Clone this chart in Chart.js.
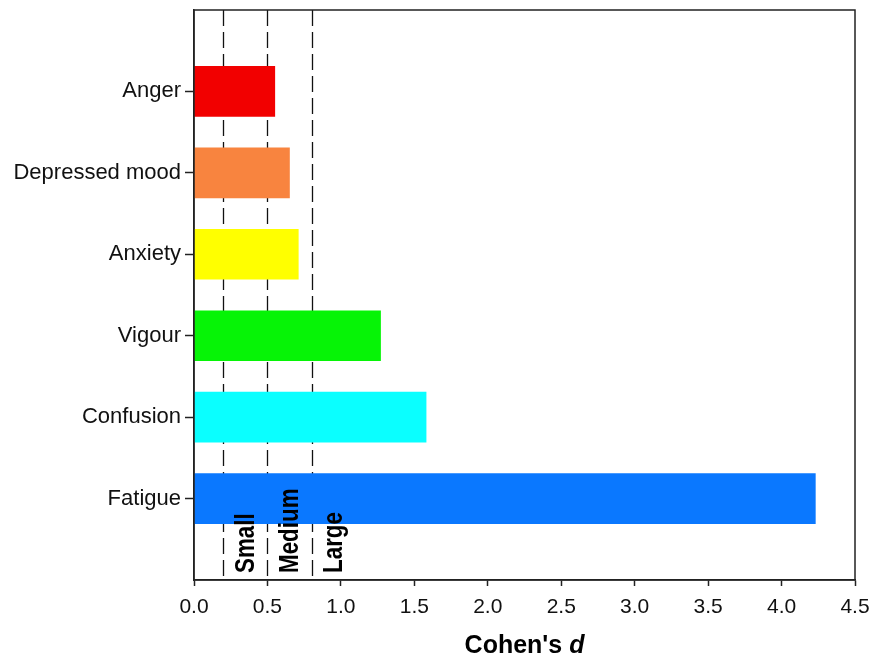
<!DOCTYPE html>
<html>
<head>
<meta charset="utf-8">
<script src="https://cdn.jsdelivr.net/npm/chart.js@4/dist/chart.umd.min.js"></script>
<style>
  html, body { margin: 0; padding: 0; background: #fff; }
  #wrap { width: 874px; height: 656px; position: relative; }
</style>
</head>
<body>
<div id="wrap"><canvas id="effectChart"></canvas></div>
<script>
// Daten
const categories = ['Anger', 'Depressed mood', 'Anxiety', 'Vigour', 'Confusion', 'Fatigue'];
const effectSizes = [0.55, 0.65, 0.71, 1.27, 1.58, 4.23];
const barColors = ['#f20000', '#f8843f', '#ffff00', '#06f406', '#0affff', '#0a78ff'];
const thresholds = [0.2, 0.5, 0.8];
const thresholdNames = ['Small', 'Medium', 'Large'];
const xTicks = [0, 0.5, 1, 1.5, 2, 2.5, 3, 3.5, 4, 4.5];

// leere Plätze oben/unten, damit die Balken wie im Original sitzen
const yLabels = [''].concat(categories, ['']);
const yData = [null].concat(effectSizes, [null]);
const yColors = ['#fff'].concat(barColors, ['#fff']);

const axisColor = '#222';
const font = "'Liberation Sans', Arial, sans-serif";

// Schwellenlinien + Beschriftung
const thresholdPlugin = {
    id: 'thresholds',
    beforeDatasetsDraw(chart) {
        const { ctx, chartArea, scales } = chart;
        ctx.save();
        ctx.strokeStyle = '#111';
        ctx.lineWidth = 1.3;
        ctx.setLineDash([16, 6]);
        thresholds.forEach(t => {
            const x = Math.round(scales.x.getPixelForValue(t)) + 0.5;
            ctx.beginPath();
            ctx.moveTo(x, chartArea.top);
            ctx.lineTo(x, chartArea.bottom);
            ctx.stroke();
        });
        ctx.restore();
    },
    afterDatasetsDraw(chart) {
        const { ctx, chartArea, scales } = chart;
        ctx.save();
        ctx.fillStyle = '#000';
        ctx.font = "bold 28px " + font;
        ctx.textAlign = 'left';
        ctx.textBaseline = 'alphabetic';
        thresholds.forEach((t, i) => {
            const x = scales.x.getPixelForValue(t + 0.21);
            ctx.save();
            ctx.translate(x, chartArea.bottom - 7);
            ctx.rotate(-Math.PI / 2);
            ctx.scale(0.8, 1);
            ctx.fillText(thresholdNames[i], 0, 0);
            ctx.restore();
        });
        ctx.restore();
    },
    afterDraw(chart) {
        const { ctx, chartArea } = chart;
        ctx.save();
        // Rahmen
        ctx.strokeStyle = axisColor;
        ctx.lineWidth = 1.5;
        ctx.strokeRect(chartArea.left, chartArea.top, chartArea.right - chartArea.left, chartArea.bottom - chartArea.top);
        // Achsentitel "Cohen's d" mit kursivem d
        const cx = (chartArea.left + chartArea.right) / 2;
        const y = 653;
        ctx.fillStyle = '#000';
        ctx.textBaseline = 'alphabetic';
        ctx.font = "bold 25px " + font;
        const w1 = ctx.measureText("Cohen's ").width;
        ctx.font = "italic bold 25px " + font;
        const w2 = ctx.measureText('d').width;
        const x0 = cx - (w1 + w2) / 2;
        ctx.textAlign = 'left';
        ctx.font = "bold 25px " + font;
        ctx.fillText("Cohen's ", x0, y);
        ctx.font = "italic bold 25px " + font;
        ctx.fillText('d', x0 + w1, y);
        ctx.restore();
    }
};

function initChart() {
    const ctx = document.getElementById('effectChart');
    return new Chart(ctx, {
        type: 'bar',
        data: {
            labels: yLabels,
            datasets: [{
                data: yData,
                backgroundColor: yColors,
                borderWidth: 0,
                barThickness: 50
            }]
        },
        options: {
            indexAxis: 'y',
            responsive: true,
            maintainAspectRatio: false,
            animation: false,
            layout: { padding: { left: 0, right: 19, top: 10, bottom: 0 } },
            plugins: {
                legend: { display: false },
                tooltip: { enabled: false }
            },
            scales: {
                x: {
                    type: 'linear',
                    min: 0,
                    max: 4.5,
                    afterBuildTicks: scale => { scale.ticks = xTicks.map(v => ({ value: v })); },
                    afterFit: scale => {
                        scale.height = 76;
                        scale.paddingLeft = 0;
                        scale.paddingRight = 0;
                    },
                    ticks: {
                        callback: v => Number(v).toFixed(1),
                        color: '#111',
                        font: { family: font, size: 21 },
                        padding: 9,
                        maxRotation: 0,
                        autoSkip: false
                    },
                    grid: { drawOnChartArea: false, tickLength: 6, tickColor: axisColor, tickWidth: 1.5 },
                    border: { color: axisColor, width: 1.5 }
                },
                y: {
                    type: 'category',
                    offset: false,
                    afterFit: scale => {
                        scale.width = 194;
                        scale.paddingTop = 0;
                        scale.paddingBottom = 0;
                    },
                    ticks: {
                        color: '#111',
                        font: { family: font, size: 22 },
                        padding: 4,
                        autoSkip: false
                    },
                    grid: {
                        drawOnChartArea: false,
                        offset: false,
                        tickLength: 9,
                        tickWidth: 1.5,
                        tickColor: c => (c.tick && c.tick.label === '') ? 'rgba(0,0,0,0)' : axisColor
                    },
                    border: { color: axisColor, width: 1.5 }
                }
            }
        },
        plugins: [thresholdPlugin]
    });
}

initChart();
</script>
</body>
</html>
